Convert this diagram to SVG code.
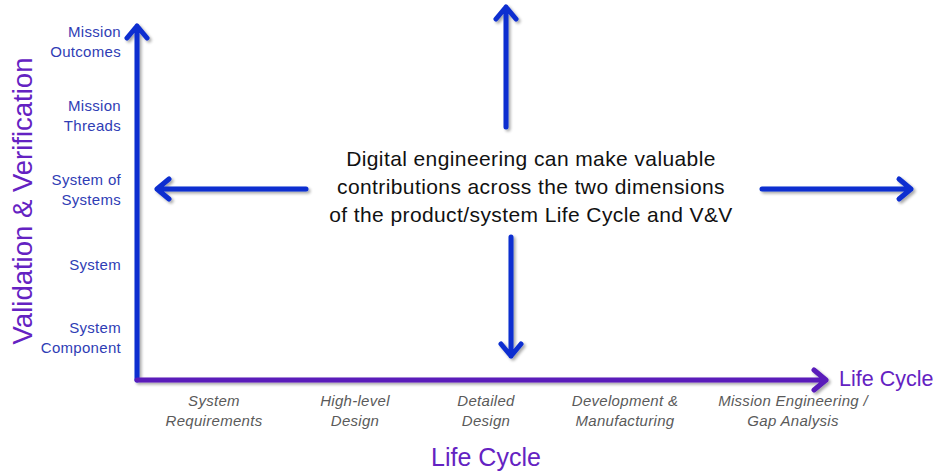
<svg xmlns="http://www.w3.org/2000/svg" width="935" height="473" viewBox="0 0 935 473">
  <defs>
    <filter id="shadow" x="-20%" y="-20%" width="140%" height="140%">
      <feGaussianBlur in="SourceAlpha" stdDeviation="1.5"/>
      <feOffset dx="2" dy="2" result="b"/>
      <feComponentTransfer><feFuncA type="linear" slope="0.35"/></feComponentTransfer>
      <feMerge><feMergeNode/><feMergeNode in="SourceGraphic"/></feMerge>
    </filter>
  </defs>
  <style>
    .blue { stroke: #0d2fd0; stroke-width: 5; fill: none; stroke-linecap: round; stroke-linejoin: round; }
    .purple { stroke: #5a1cba; stroke-width: 5; fill: none; stroke-linecap: round; stroke-linejoin: round; }
    .lvl { font-family: "Liberation Sans", Arial, sans-serif; font-size: 15px; letter-spacing: 0.3px; fill: #2f3db5; text-anchor: end; }
    .phase { font-family: "Liberation Sans", Arial, sans-serif; font-size: 15px; letter-spacing: 0.3px; font-style: italic; fill: #5a5a5a; text-anchor: middle; }
    .title { font-family: "Liberation Sans", Arial, sans-serif; fill: #6422c2; }
    .msg { font-family: "Liberation Sans", Arial, sans-serif; font-size: 21px; letter-spacing: 0.4px; fill: #111; text-anchor: middle; }
  </style>
  <rect width="935" height="473" fill="#fff"/>

  <!-- axes and direction arrows -->
  <g id="connectors" filter="url(#shadow)">
    <path class="blue" d="M137 380 V26 M127 38 L137 26 L147 38"/>
    <path class="purple" d="M137 380 H826 M814 370 L826 380 L814 390"/>
    <path class="blue" d="M506 127 V7 M496 19 L506 7 L516 19"/>
    <path class="blue" d="M511 237 V356 M501 344 L511 356 L521 344"/>
    <path class="blue" d="M306 189 H157 M169 179 L157 189 L169 199"/>
    <path class="blue" d="M762 189 H911 M899 179 L911 189 L899 199"/>
  </g>

  <!-- vertical axis: V&V levels -->
  <g id="vv-axis">
    <text class="title" font-size="27.5" transform="translate(32 201) rotate(-90)" text-anchor="middle">Validation &amp; Verification</text>
    <text class="lvl" x="121" y="37">Mission</text>
    <text class="lvl" x="121" y="57">Outcomes</text>
    <text class="lvl" x="121" y="111">Mission</text>
    <text class="lvl" x="121" y="131">Threads</text>
    <text class="lvl" x="121" y="185">System of</text>
    <text class="lvl" x="121" y="205">Systems</text>
    <text class="lvl" x="121" y="270">System</text>
    <text class="lvl" x="121" y="333">System</text>
    <text class="lvl" x="121" y="353">Component</text>
  </g>

  <!-- horizontal axis: life cycle phases -->
  <g id="lifecycle-axis">
    <text class="title" font-size="21.5" x="839" y="386">Life Cycle</text>
    <text class="title" font-size="25" x="486" y="466" text-anchor="middle">Life Cycle</text>
    <text class="phase" x="214" y="406">System</text>
    <text class="phase" x="214" y="426">Requirements</text>
    <text class="phase" x="355" y="406">High-level</text>
    <text class="phase" x="355" y="426">Design</text>
    <text class="phase" x="486" y="406">Detailed</text>
    <text class="phase" x="486" y="426">Design</text>
    <text class="phase" x="625" y="406">Development &amp;</text>
    <text class="phase" x="625" y="426">Manufacturing</text>
    <text class="phase" x="793" y="406">Mission Engineering /</text>
    <text class="phase" x="793" y="426">Gap Analysis</text>
  </g>

  <!-- central statement -->
  <g id="message">
    <text class="msg" x="531" y="166">Digital engineering can make valuable</text>
    <text class="msg" x="531" y="194">contributions across the two dimensions</text>
    <text class="msg" x="531" y="222">of the product/system Life Cycle and V&amp;V</text>
  </g>
</svg>
